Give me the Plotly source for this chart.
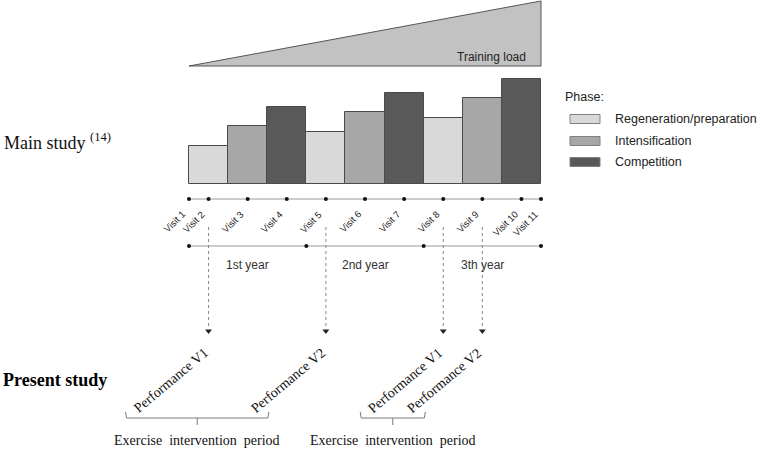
import plotly.graph_objects as go

# ---------------- data ----------------
bar_months = [2, 6, 10, 14, 18, 22, 26, 30, 34]          # centre of each 4-month block
bar_loads = [38, 58, 77, 52, 72, 91, 66, 86, 105]         # relative training volume
bar_phases = ["Regeneration/preparation", "Intensification", "Competition"] * 3
phase_names = ["Regeneration/preparation", "Intensification", "Competition"]
phase_colors = {"Regeneration/preparation": "#d9d9d9",
                "Intensification": "#a7a7a7",
                "Competition": "#595959"}

load_months = [0, 36, 36, 0]
load_values = [118, 118, 183, 118]

visit_months = [0, 2, 6, 10, 14, 18, 22, 26, 30, 34, 36]
visit_labels = ["Visit %d" % i for i in range(1, 12)]

year_bounds = [0, 12, 24, 36]
year_labels = ["1st year", "2nd year", "3th year"]

perf_visits = [1, 4, 7, 8]   # indices into visit list (Visit 2, 5, 8, 9)
perf_labels = ["Performance V1", "Performance V2", "Performance V1", "Performance V2"]
periods = [(1, 4), (7, 8)]   # visit index pairs bounding each period
period_label = "Exercise&nbsp; intervention&nbsp; period"

# ---------------- layout helpers ----------------
W, H = 758, 451
X0_PX, PX_PER_MONTH = 189, 9.778
BASE_PX = 184


def px2x(px):
    return (px - X0_PX) / PX_PER_MONTH


def py2y(py):
    return BASE_PX - py


SERIF = "Liberation Serif, Times New Roman, serif"
SANS = "Liberation Sans, Arial, sans-serif"
LINE = "#4a4a4a"

fig = go.Figure()

# training load wedge
fig.add_trace(go.Scatter(x=load_months, y=load_values, mode="lines", fill="toself",
                         fillcolor="#c2c2c2", line=dict(color="#555555", width=1),
                         hoverinfo="skip", showlegend=False))

# bars per phase
for ph in phase_names:
    xs = [m for m, p in zip(bar_months, bar_phases) if p == ph]
    ys = [v for v, p in zip(bar_loads, bar_phases) if p == ph]
    fig.add_trace(go.Bar(x=xs, y=ys, width=4, base=0, name=ph,
                         marker=dict(color=phase_colors[ph], line=dict(color=LINE, width=1)),
                         showlegend=False))

# visit timeline
y_vis = py2y(199)
fig.add_trace(go.Scatter(x=[visit_months[0], visit_months[-1]], y=[y_vis, y_vis], mode="lines",
                         line=dict(color="#9a9a9a", width=1), showlegend=False, hoverinfo="skip"))
fig.add_trace(go.Scatter(x=visit_months, y=[y_vis] * len(visit_months), mode="markers",
                         marker=dict(color="#111111", size=4), showlegend=False))

annotations = []
for m, lab in zip(visit_months, visit_labels):
    annotations.append(dict(x=m + 1.5 / PX_PER_MONTH, y=py2y(206), text=lab, showarrow=False,
                            textangle=-45, xanchor="right", yanchor="top",
                            font=dict(family=SANS, size=9.5, color="#222222")))

# year timeline
y_year = py2y(246)
fig.add_trace(go.Scatter(x=[year_bounds[0], year_bounds[-1]], y=[y_year, y_year], mode="lines",
                         line=dict(color="#9a9a9a", width=1), showlegend=False, hoverinfo="skip"))
fig.add_trace(go.Scatter(x=year_bounds, y=[y_year] * len(year_bounds), mode="markers",
                         marker=dict(color="#111111", size=4), showlegend=False))
for i, lab in enumerate(year_labels):
    annotations.append(dict(x=(year_bounds[i] + year_bounds[i + 1]) / 2, y=py2y(265), text=lab,
                            showarrow=False, font=dict(family=SANS, size=12, color="#333333")))

# dotted arrows to performance tests
y_a0, y_a1, y_tip = py2y(227), py2y(329), py2y(331)
for vi, lab in zip(perf_visits, perf_labels):
    m = visit_months[vi]
    fig.add_trace(go.Scatter(x=[m, m], y=[y_a0, y_a1], mode="lines",
                             line=dict(color="#888888", width=1, dash="dot"),
                             showlegend=False, hoverinfo="skip"))
    fig.add_trace(go.Scatter(x=[m], y=[y_tip], mode="markers",
                             marker=dict(symbol="triangle-down", size=6, color="#222222"),
                             showlegend=False, hoverinfo="skip"))
    annotations.append(dict(x=m + 5 / PX_PER_MONTH, y=py2y(342), text=lab, showarrow=False,
                            textangle=-40, xanchor="right", yanchor="top",
                            font=dict(family=SERIF, size=14, color="#111111")))

# braces for intervention periods
for a, b in periods:
    xl = visit_months[a] - 83 / PX_PER_MONTH
    xr = visit_months[b] - 57 / PX_PER_MONTH
    xc = (xl + xr) / 2
    yb, yt, yc = py2y(418), py2y(412), py2y(425)
    fig.add_trace(go.Scatter(x=[xl, xl + 0.1, xr - 0.1, xr], y=[yt, yb, yb, yt], mode="lines",
                             line=dict(color="#7a7a7a", width=1), showlegend=False, hoverinfo="skip"))
    fig.add_trace(go.Scatter(x=[xc, xc], y=[yb, yc], mode="lines",
                             line=dict(color="#7a7a7a", width=1), showlegend=False, hoverinfo="skip"))
    annotations.append(dict(x=xc, y=py2y(440), text=period_label, showarrow=False,
                            font=dict(family=SERIF, size=14, color="#111111")))

# text labels
shapes = []
annotations.append(dict(x=px2x(528), y=py2y(57), text="Training load", showarrow=False,
                        xanchor="right", font=dict(family=SANS, size=12, color="#222222")))
annotations.append(dict(x=px2x(2), y=py2y(141), text="Main study <sup>(14)</sup>", showarrow=False,
                        xanchor="left", font=dict(family=SERIF, size=18, color="#111111")))
annotations.append(dict(x=px2x(1), y=py2y(380), text="<b>Present study</b>", showarrow=False,
                        xanchor="left", font=dict(family=SERIF, size=18, color="#000000")))

# phase legend
annotations.append(dict(x=px2x(563), y=py2y(97), text="Phase:", showarrow=False, xanchor="left",
                        font=dict(family=SANS, size=12.5, color="#222222")))
for ph, cy in zip(phase_names, [119, 141, 162]):
    shapes.append(dict(type="rect", xref="x", yref="y", x0=px2x(570), x1=px2x(600),
                       y0=py2y(cy - 4.5), y1=py2y(cy + 4.5), fillcolor=phase_colors[ph],
                       line=dict(color="#808080", width=1)))
    annotations.append(dict(x=px2x(613), y=py2y(cy), text=ph, showarrow=False, xanchor="left",
                            font=dict(family=SANS, size=12.5, color="#222222")))

fig.update_layout(
    width=W, height=H, margin=dict(l=0, r=0, t=0, b=0),
    paper_bgcolor="white", plot_bgcolor="white",
    xaxis=dict(range=[px2x(0), px2x(W)], visible=False, fixedrange=True),
    yaxis=dict(range=[py2y(H), py2y(0)], visible=False, fixedrange=True),
    annotations=annotations, shapes=shapes, bargap=0, showlegend=False,
)

fig.write_html("out.html", config={"displayModeBar": False},
               post_script="document.body.style.margin='0px';document.body.style.overflow='hidden';")
